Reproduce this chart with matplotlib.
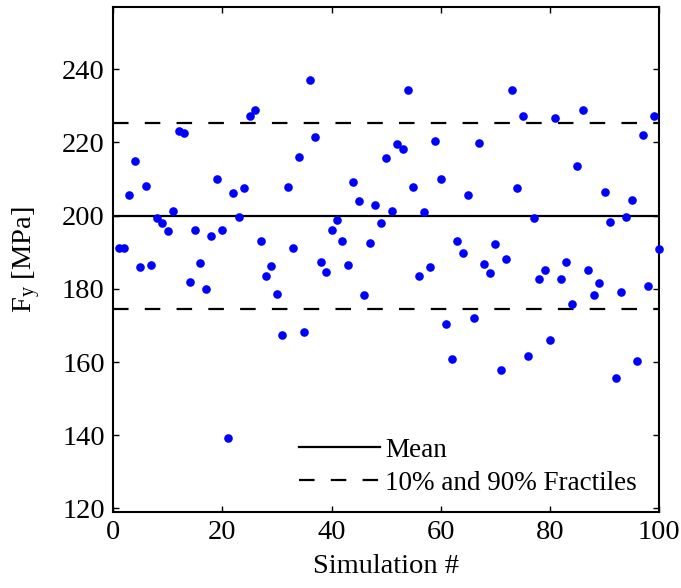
import numpy as np
import matplotlib
matplotlib.use('Agg')
import matplotlib.pyplot as plt

plt.rcParams['font.family'] = ['Liberation Serif', 'DejaVu Serif']
plt.rcParams['mathtext.fontset'] = 'custom'
plt.rcParams['mathtext.rm'] = 'Liberation Serif'
plt.rcParams['mathtext.it'] = 'Liberation Serif:italic'
plt.rcParams['font.size'] = 20.5

# simulated yield strength, one value per simulation
sim = np.arange(1, 101)
fy = [191.2, 191.2, 205.6, 215.0, 185.9, 208.2, 186.5, 199.4, 198.0, 195.7,
      201.3, 223.2, 222.5, 182.0, 196.2, 187.2, 180.1, 194.4, 210.0, 196.0,
      139.2, 206.2, 199.7, 207.5, 227.3, 229.0, 193.1, 183.6, 186.3, 178.6,
      167.5, 207.7, 191.2, 215.9, 168.3, 237.2, 221.5, 187.3, 184.5, 196.1,
      198.9, 193.0, 186.5, 209.2, 204.0, 178.3, 192.4, 203.0, 198.1, 215.8,
      201.4, 219.6, 218.1, 234.3, 207.7, 183.4, 200.9, 185.9, 220.4, 210.1,
      170.5, 160.8, 193.1, 189.7, 205.7, 172.1, 219.8, 186.7, 184.4, 192.2,
      157.8, 188.1, 234.3, 207.6, 227.1, 161.7, 199.4, 182.8, 185.1, 166.0,
      226.8, 182.8, 187.3, 175.9, 213.5, 229.0, 185.2, 178.2, 181.7, 206.6,
      198.2, 155.7, 179.1, 199.7, 204.4, 160.2, 222.0, 180.8, 227.2, 191.0]

mean_val = 200.0
frac_10 = 174.5
frac_90 = 225.4

fig = plt.figure(figsize=(6.81, 5.88), dpi=100)
ax = fig.add_axes([0.166, 0.129, 0.802, 0.859])

ax.plot(sim, fy, 'o', color='#0000ff', markersize=6.2, markeredgewidth=0,
        zorder=3, clip_on=False)
ax.axhline(mean_val, color='black', lw=1.6, label='Mean', zorder=2)
ax.axhline(frac_90, color='black', lw=1.6, dashes=(7, 7.3),
           label='10% and 90% Fractiles', zorder=2)
ax.axhline(frac_10, color='black', lw=1.6, dashes=(7, 7.3), zorder=2)

ax.set_xlim(0, 100)
ax.set_ylim(119, 257)
ax.set_xticks(np.arange(0, 101, 20))
ax.set_yticks(np.arange(120, 241, 20))
ax.tick_params(direction='in', length=4, width=1, top=True, right=True, pad=6)
for s in ax.spines.values():
    s.set_linewidth(1.5)

ax.set_xlabel('Simulation #', labelpad=6)
ax.set_ylabel(r'F$_{\mathrm{y}}$ [MPa]', labelpad=14)

ax.legend(loc='lower left', bbox_to_anchor=(0.305, -0.005), frameon=False,
          fontsize=19.5, handlelength=3.0, handletextpad=0.2,
          labelspacing=0.3, borderaxespad=0.3)

fig.savefig('out.png', dpi=100)
